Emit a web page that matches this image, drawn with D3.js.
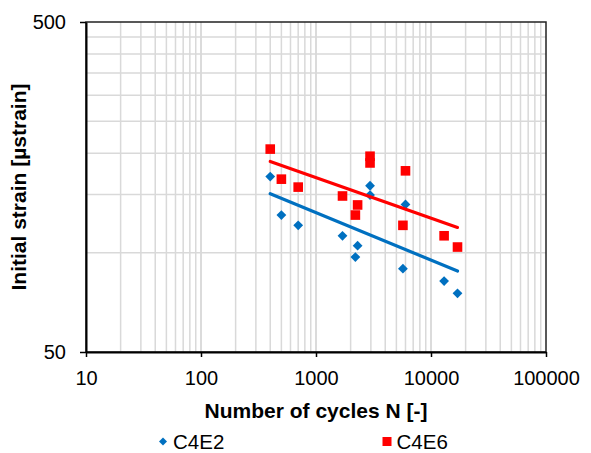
<!DOCTYPE html>
<html>
<head>
<meta charset="utf-8">
<script src="https://cdn.jsdelivr.net/npm/d3@7"></script>
<style>
  body { margin: 0; background: #fff; }
  text { font-family: "Liberation Sans", Arial, sans-serif; }
</style>
</head>
<body>
<div id="chart"></div>
<script>
// data
const cyclesC4E2 = [400, 500, 700, 1700, 2300, 2200, 2950, 2950, 6000, 5700, 13000, 17000];
const strainC4E2 = [170, 130, 121, 112.5, 105, 97, 159.5, 149.5, 140, 89.4, 82, 75.3];
const cyclesC4E6 = [400, 500, 700, 1700, 2300, 2200, 2950, 2950, 6000, 5700, 13000, 17000];
const strainC4E6 = [206, 167, 158, 148.5, 139.5, 130, 196, 187, 177, 121, 112.5, 104];
const xTicks = [10, 100, 1000, 10000, 100000];
const yTicks = [50, 500];
const seriesNames = ['C4E2', 'C4E6'];

const width = 591, height = 453;
const margin = {left: 86, right: 45, top: 22, bottom: 101};
const innerW = width - margin.left - margin.right;
const innerH = height - margin.top - margin.bottom;

const svg = d3.select('#chart').append('svg')
  .attr('width', width)
  .attr('height', height);

const x = d3.scaleLog().domain([10, 100000]).range([margin.left, margin.left + innerW]);
const y = d3.scaleLog().domain([50, 500]).range([margin.top + innerH, margin.top]);

// minor grid values (Excel style log minors)
const xGrid = [];
for (let p = 10; p < 100000; p *= 10) {
  for (let k = 1; k <= 10; k++) xGrid.push(p * k);
}
const yGrid = [];
for (let v = 100; v < 500; v += 50) yGrid.push(v);

const grid = svg.append('g').attr('stroke', '#d9d9d9').attr('stroke-width', 1.5);
grid.selectAll('.vx').data(xGrid.filter(d => d > 10 && d < 100000)).enter()
  .append('line')
  .attr('x1', d => x(d)).attr('x2', d => x(d))
  .attr('y1', margin.top).attr('y2', margin.top + innerH);
grid.selectAll('.hy').data(yGrid).enter()
  .append('line')
  .attr('x1', margin.left).attr('x2', margin.left + innerW)
  .attr('y1', d => y(d)).attr('y2', d => y(d));

// plot border
svg.append('rect')
  .attr('x', margin.left).attr('y', margin.top)
  .attr('width', innerW).attr('height', innerH)
  .attr('fill', 'none').attr('stroke', '#222').attr('stroke-width', 1.5);

// axes
const xAxis = svg.append('g')
  .attr('transform', 'translate(0,' + (margin.top + innerH) + ')')
  .call(d3.axisBottom(x).tickValues(xTicks).tickFormat(d3.format('d')).tickSize(5).tickSizeOuter(0).tickPadding(14));
const yAxis = svg.append('g')
  .attr('transform', 'translate(' + margin.left + ',0)')
  .call(d3.axisLeft(y).tickValues(yTicks).tickFormat(d3.format('d')).tickSize(6).tickSizeOuter(0).tickPadding(14));

[xAxis, yAxis].forEach(a => {
  a.select('.domain').attr('stroke', '#000').attr('stroke-width', 2);
  a.selectAll('.tick line').attr('stroke', '#000').attr('stroke-width', 1.5);
  a.selectAll('.tick text').attr('fill', '#000')
    .style('font-size', '20px').style('font-family', '"Liberation Sans", Arial, sans-serif');
});

// power trend line, least squares in log space (what Excel does)
function powerFit(xs, ys) {
  const lx = xs.map(Math.log), ly = ys.map(Math.log);
  const mx = d3.mean(lx), my = d3.mean(ly);
  const b = d3.sum(lx, (v, i) => (v - mx) * (ly[i] - my)) / d3.sum(lx, v => (v - mx) * (v - mx));
  const a = Math.exp(my - b * mx);
  return n => a * Math.pow(n, b);
}

const diamond = s => `M0,${-s}L${s},0L0,${s}L${-s},0Z`;

const blue = '#0070c0', red = '#ff0000';

// markers
svg.append('g').selectAll('path').data(cyclesC4E2).enter()
  .append('path')
  .attr('d', diamond(4.9))
  .attr('transform', (d, i) => 'translate(' + x(d) + ',' + y(strainC4E2[i]) + ')')
  .attr('fill', blue);

svg.append('g').selectAll('rect').data(cyclesC4E6).enter()
  .append('rect')
  .attr('x', d => x(d) - 4.8)
  .attr('y', (d, i) => y(strainC4E6[i]) - 4.8)
  .attr('width', 9.6).attr('height', 9.6)
  .attr('fill', red);

// trend lines
const line = d3.line().x(d => x(d[0])).y(d => y(d[1]));
[[cyclesC4E2, strainC4E2, blue], [cyclesC4E6, strainC4E6, red]].forEach(([xs, ys, c]) => {
  const f = powerFit(xs, ys);
  const ext = d3.extent(xs);
  svg.append('path')
    .datum([[ext[0], f(ext[0])], [ext[1], f(ext[1])]])
    .attr('d', line)
    .attr('fill', 'none')
    .attr('stroke', c)
    .attr('stroke-width', 3.2)
    .attr('stroke-linecap', 'round');
});

// axis titles
svg.append('text')
  .attr('x', margin.left + innerW / 2).attr('y', 418)
  .attr('text-anchor', 'middle')
  .style('font-size', '21px').style('font-weight', 'bold')
  .text('Number of cycles N [-]');

svg.append('text')
  .attr('transform', 'translate(26,187) rotate(-90)')
  .attr('text-anchor', 'middle')
  .style('font-size', '21px').style('font-weight', 'bold')
  .text('Initial strain [µstrain]');

// legend
const legend = svg.append('g');
legend.append('path').attr('d', diamond(4)).attr('transform', 'translate(163,441.5)').attr('fill', blue);
legend.append('text').attr('x', 173).attr('y', 448.5).style('font-size', '20.5px').text(seriesNames[0]);
legend.append('rect').attr('x', 382.5).attr('y', 437).attr('width', 9).attr('height', 9).attr('fill', red);
legend.append('text').attr('x', 396.5).attr('y', 448.5).style('font-size', '20.5px').text(seriesNames[1]);
</script>
</body>
</html>
